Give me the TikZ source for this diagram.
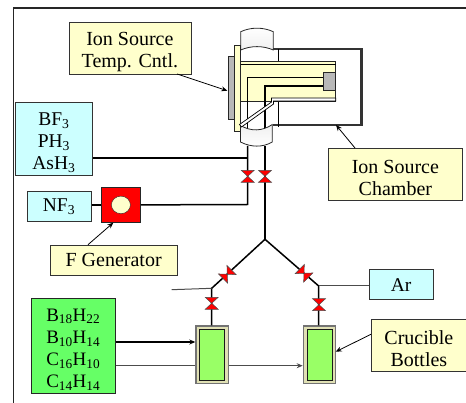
\documentclass[tikz,border=0pt]{standalone}
\usepackage{fontspec}
\setmainfont{Liberation Serif}
\usetikzlibrary{arrows.meta,shapes.geometric}
\definecolor{notecol}{RGB}{255,255,204}
\definecolor{gascol}{RGB}{204,255,255}
\definecolor{boxgreen}{RGB}{102,255,102}
\definecolor{bottlecol}{RGB}{153,255,102}
\definecolor{valvecol}{RGB}{255,0,0}
\tikzset{
  note/.style={draw=black!80,fill=notecol,line width=.8pt,align=center,font=\fontsize{20}{22}\selectfont,inner sep=0pt,anchor=north west},
  gas/.style={draw=black!80,fill=gascol,line width=.8pt,align=center,font=\fontsize{19.5}{22}\selectfont,inner sep=0pt,anchor=north west},
  pipe/.style={line width=1.5pt},
  thinpipe/.style={line width=1pt,draw=black!70},
  pointer/.style={line width=.8pt,-{Stealth[length=6pt,width=5pt]}},
  valve/.style={draw=black!70,fill=valvecol,line width=.5pt},
  part/.style={draw=black!85,line width=.8pt},
  bottle/.style={draw=black!55,fill=notecol!88!black,line width=1.2pt,minimum width=32.5pt,minimum height=57.5pt,anchor=north west,inner sep=0pt},
  bottlein/.style={draw=black!90,fill=bottlecol,line width=.8pt,minimum width=25pt,minimum height=51pt,inner sep=0pt}
}
\newcommand{\sub}[1]{\textsubscript{#1}}
\newcommand{\lift}{\rule{0pt}{20pt}}
% one valve: two red triangles meeting at the node
\newcommand{\valveat}[3]{%
  \coordinate (#1) at #2;
  \begin{scope}[shift={(#1)},rotate=#3]
    \draw[valve] (-6.5,-6) -- (6.5,-6) -- (-6.5,6) -- (6.5,6) -- cycle;
  \end{scope}}
\begin{document}
\begin{tikzpicture}[x=1pt,y=-1pt]
  \useasboundingbox (0,0) rectangle (466,403);
  \draw[line width=1.3pt,draw=black!85] (13.5,403) -- (13.5,8) -- (466,8);
  % ion source
  \draw[part,top color=white,bottom color=black!6] (240.7,50) -- (240.7,31.7) .. controls (251,27) and (263,27) .. (273.3,31.7) -- (273.3,50) .. controls (263,45.5) and (251,45.5) .. (240.7,50);
  \draw[line width=2.2pt,draw=black!80] (273,49) -- (361.5,49) -- (361.5,125) -- (273,125);
  \draw[line width=1pt] (278.5,49) -- (278.5,127);
  \draw[part,fill=black!28] (228,56.7) rectangle (234.7,119.3);
  \draw[part,fill=notecol] (234.7,45) rectangle (240.5,131);
  \draw[part,fill=notecol] (240.5,61.7) rectangle (335.7,101);
  \draw[line width=.7pt] (240.5,64.5) -- (335.7,64.5);
  \draw[pipe] (247.7,131) -- (247.7,77.7) -- (323,77.7);
  \draw[pipe] (265,131) -- (265,86) -- (323,86);
  \draw[part,fill=black!28] (323,72.3) rectangle (335.7,90);
  \draw[part,top color=black!6,bottom color=white] (240.5,125.5) .. controls (251,131.5) and (262,131.5) .. (272.3,124.5) -- (272.3,142) .. controls (263,147.5) and (251,147.5) .. (240.5,142) -- cycle;
  \draw[fill=white,line width=.7pt] (239.5,124.5) -- (271.5,102) -- (271.5,98) -- (335.7,98) -- (335.7,101) -- (273.5,101) -- (273.5,104) -- (241.5,127) -- cycle;
  % gases and labels
  \node[gas,minimum width=77pt,minimum height=73pt] (bf) at (15,102) {\lift BF\sub{3}\\PH\sub{3}\\AsH\sub{3}};
  \node[gas,minimum width=64.2pt,minimum height=30pt] (nf) at (26.5,191) {NF\sub{3}};
  \node[draw=black!85,fill=valvecol,line width=.8pt,minimum width=39pt,minimum height=35pt,anchor=north west,inner sep=0pt] (fgen) at (101,187) {};
  \node[draw=black!85,fill=notecol,ellipse,minimum width=19pt,minimum height=17.5pt,inner sep=0pt] (fcirc) at (fgen.center) {};
  \node[note,minimum width=127.5pt,minimum height=30pt] (fnote) at (49.5,244.7) {F Generator};
  \node[note,minimum width=122pt,minimum height=52pt] (tnote) at (68.5,22) {\lift Ion Source\\Temp. Cntl.};
  \node[note,minimum width=134pt,minimum height=52pt] (cnote) at (328,148) {\lift Ion Source\\Chamber};
  \node[gas,minimum width=64pt,minimum height=30pt] (ar) at (368.7,269.3) {Ar};
  \node[note,minimum width=95pt,minimum height=52pt] (bnote) at (371,319.3) {\lift Crucible\\Bottles};
  \node[draw=black!85,fill=boxgreen,line width=.8pt,minimum width=83.7pt,minimum height=95pt,anchor=north west,inner sep=0pt,align=center,font=\fontsize{19}{22.3}\selectfont] (bor) at (31,298) {\lift B\sub{18}H\sub{22}\\B\sub{10}H\sub{14}\\C\sub{16}H\sub{10}\\C\sub{14}H\sub{14}};
  \node[bottle] (b1) at (195.3,325.5) {};
  \node[bottle] (b2) at (302.7,325.5) {};
  \node[bottlein] (g1) at (b1.center) {};
  \node[bottlein] (g2) at (b2.center) {};
  \coordinate (jy) at (265,239.3);
  \coordinate (jl) at (211.7,288.3);
  \coordinate (jr) at (318.7,286);
  \coordinate (top1) at (247.7,146);
  \coordinate (top2) at (265,146);
  \coordinate (stub) at (171.7,289.7);
  % lines
  \draw[pipe] (bf.east |- 0,158) -- (247.7,158);
  \draw[pipe] (fgen.east) -- (247.7,204.5) -- (top1);
  \draw[pipe] (nf.east |- fgen.west) -- (fgen.west);
  \draw[pipe] (top2) -- (jy);
  \draw[pipe] (jy) -- (jl) -- (b1.north -| jl);
  \draw[pipe] (jy) -- (jr) -- (b2.north -| jr);
  \draw[thinpipe] (stub) -- (jl);
  \draw[thinpipe] (jr) -- (ar.west |- jr);
  \draw[pipe,-{Stealth[length=6pt,width=5pt]}] (bor.east |- 0,342) -- (b1.west |- 0,342);
  \draw[thinpipe] (bor.east |- 0,365.7) -- (b1.west |- 0,365.7);
  \draw[thinpipe,-{Stealth[length=6pt,width=5pt]}] (b1.east |- 0,365.7) -- (b2.west |- 0,365.7);
  \valveat{v1}{(247.7,176.3)}{0}
  \valveat{v2}{(265,176.3)}{0}
  \valveat{v3}{(227.3,274.3)}{-45}
  \valveat{v4}{(304,273.3)}{45}
  \valveat{v5}{(211.7,303.3)}{0}
  \valveat{v6}{(319,304.7)}{0}
  % pointers
  \coordinate (ptsrc) at (177,74);
  \coordinate (ptdst) at (227.3,90.7);
  \coordinate (pfsrc) at (88,244.7);
  \coordinate (pfdst) at (113.3,222.7);
  \coordinate (pcdst) at (336,125);
  \coordinate (pcsrc) at (355,148);
  \coordinate (pbdst) at (335.7,351.7);
  \coordinate (pbsrc) at (371,334.3);
  \draw[pointer] (ptsrc) -- (ptdst);
  \draw[pointer] (pfsrc) -- (pfdst);
  \draw[pointer] (pcsrc) -- (pcdst);
  \draw[pointer] (pbsrc) -- (pbdst);
\end{tikzpicture}
\end{document}
